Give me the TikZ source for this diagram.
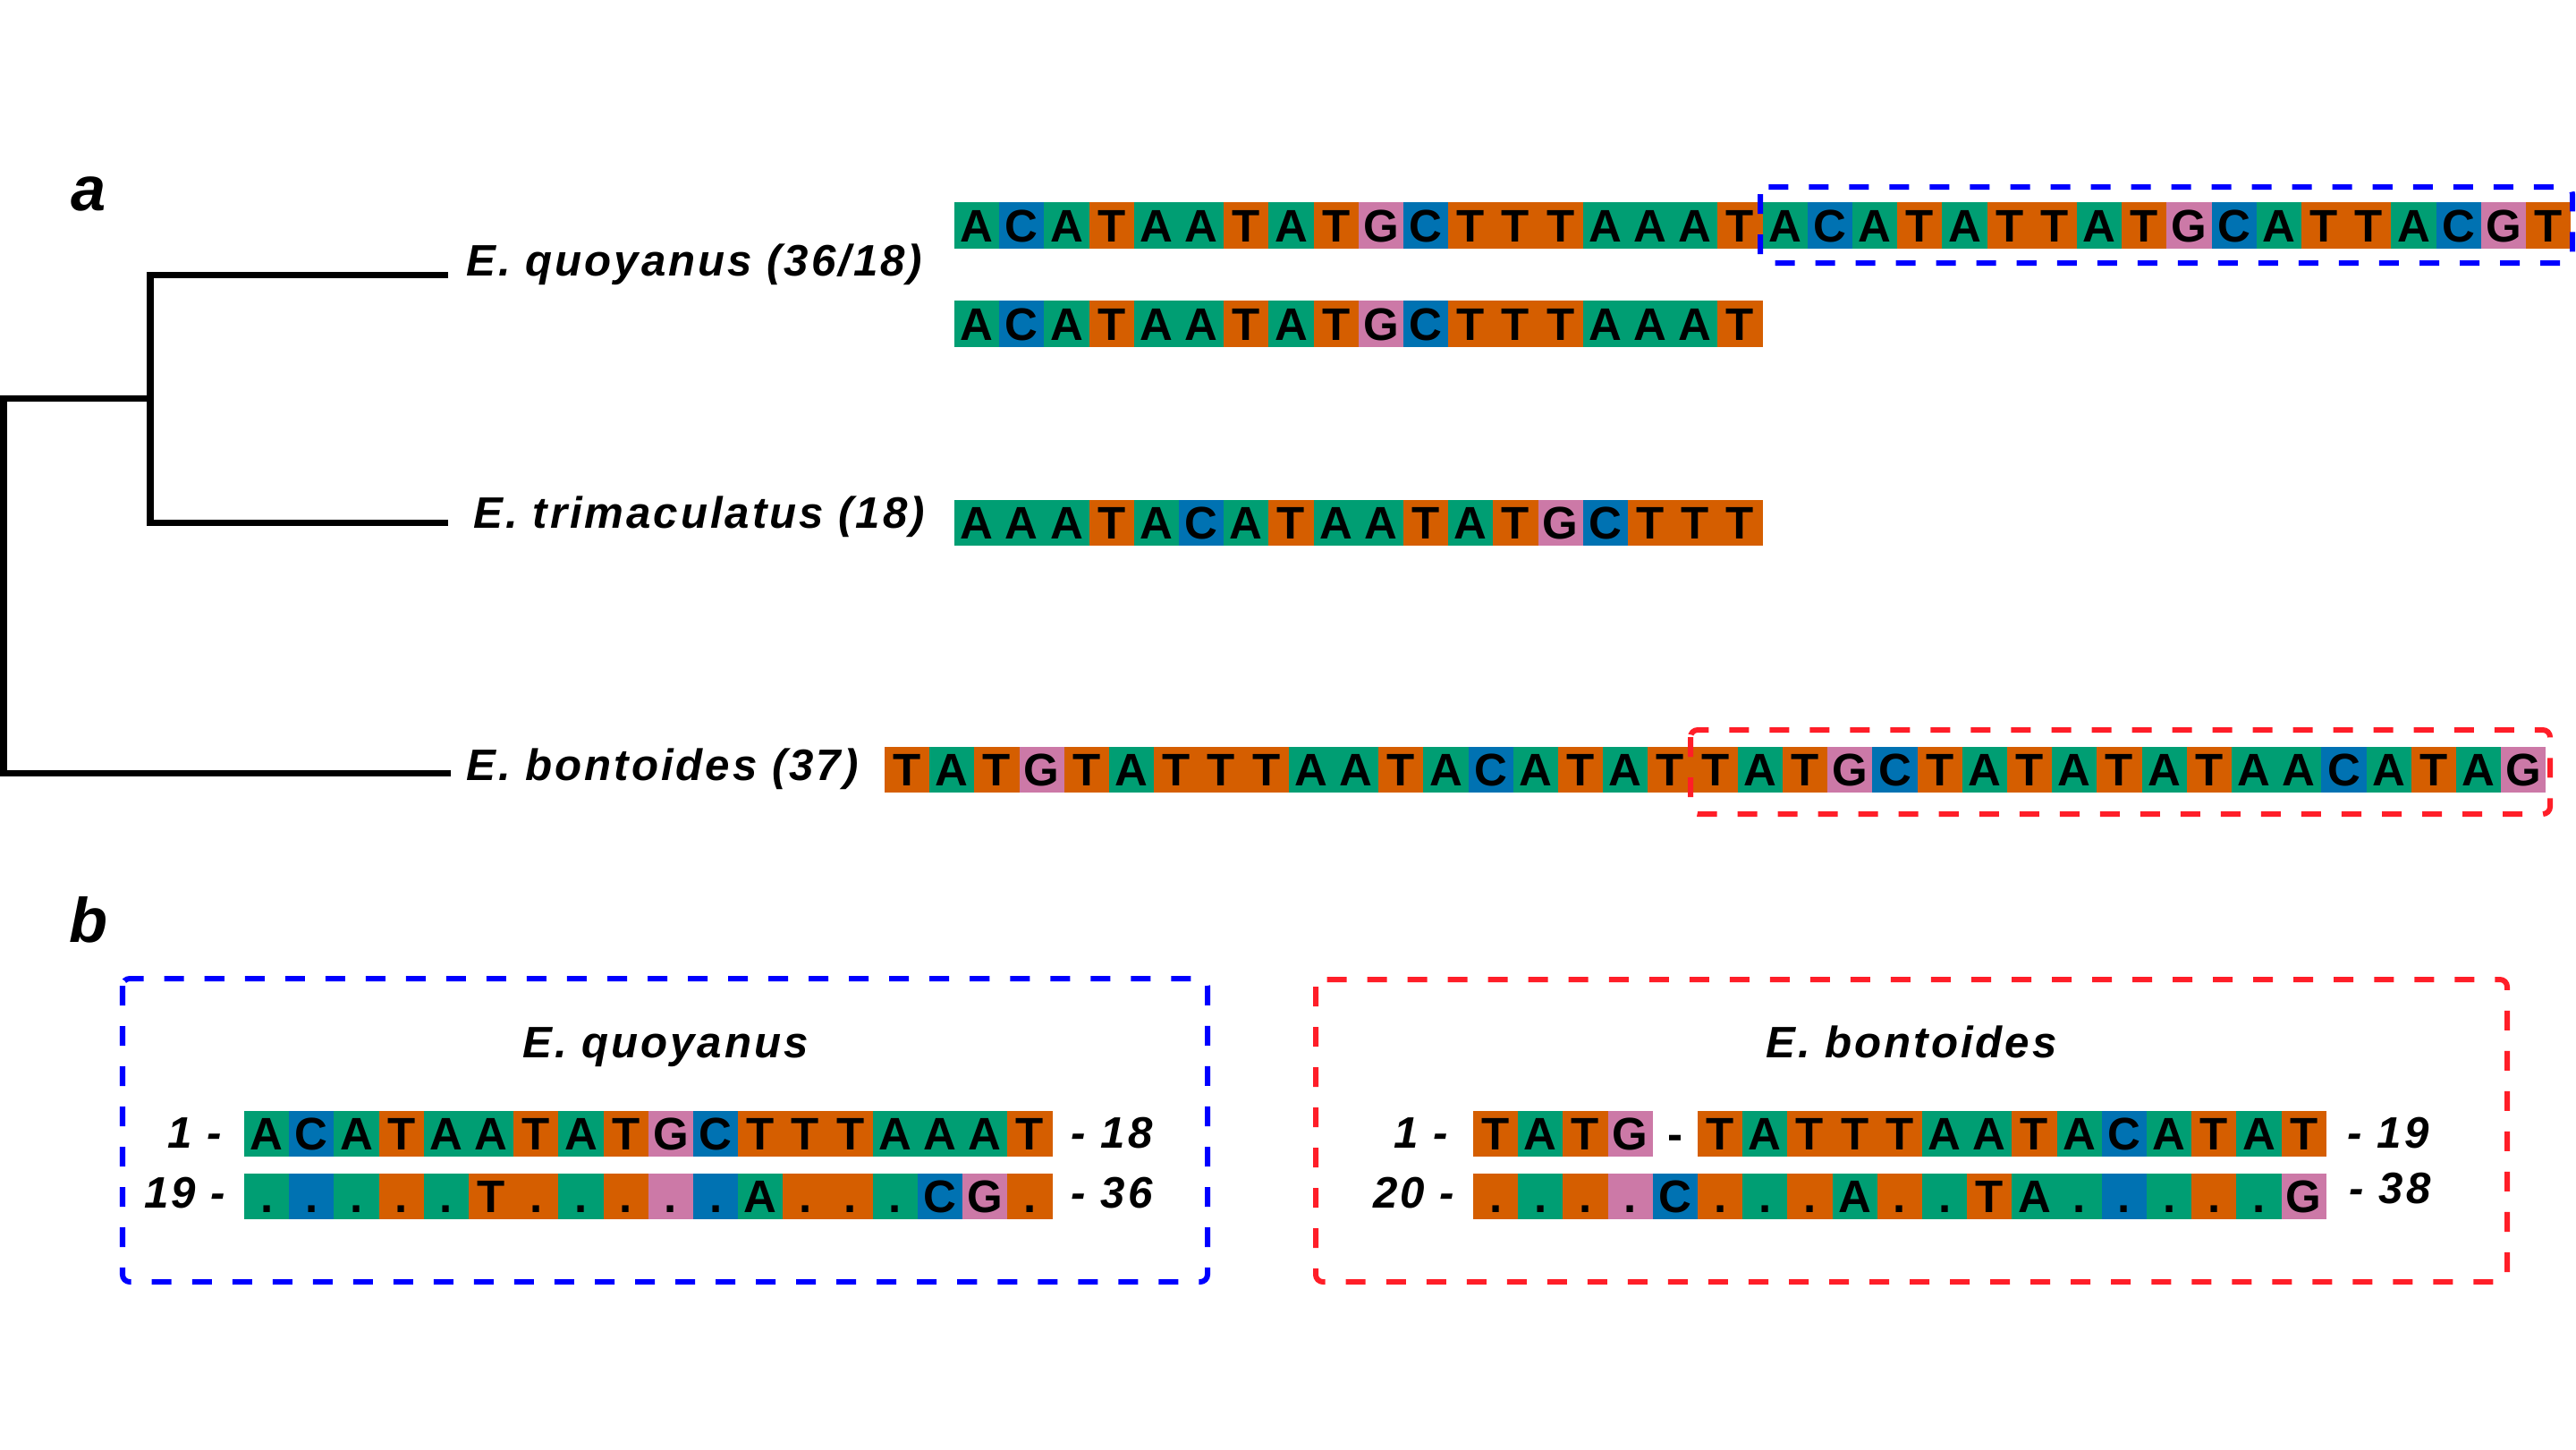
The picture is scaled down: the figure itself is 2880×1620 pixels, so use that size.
\documentclass[tikz,border=0pt]{standalone}
\usepackage{fontspec}
\setmainfont{Liberation Sans}
\newfontfamily\spfont[LetterSpace=6]{Liberation Sans}

\definecolor{colA}{RGB}{0,158,115}
\definecolor{colC}{RGB}{0,114,178}
\definecolor{colG}{RGB}{204,121,167}
\definecolor{colT}{RGB}{213,94,0}
\colorlet{cola}{colA}
\colorlet{colc}{colC}
\colorlet{colg}{colG}
\colorlet{colt}{colT}
\colorlet{coln}{white}
\definecolor{boxblue}{RGB}{0,0,255}
\definecolor{boxred}{RGB}{255,30,40}

% upper case = base, lower case = same base shown as a dot, n = gap
\newcommand{\txtA}{A}
\newcommand{\txtC}{C}
\newcommand{\txtG}{G}
\newcommand{\txtT}{T}
\newcommand{\txta}{.}
\newcommand{\txtc}{.}
\newcommand{\txtg}{.}
\newcommand{\txtt}{.}
\newcommand{\txtn}{-}

% name, left x, centre y, bases
\newcommand{\seqrow}[4]{%
  \foreach \nt [count=\i] in {#4}
    \node[cell, fill=col\nt] (#1-\i) at ({#2+(\i-0.5)*50.2},#3) {\csname txt\nt\endcsname};
}

\begin{document}
\begin{tikzpicture}[x=0.01cm, y=-0.01cm,
        branch/.style={line width=0.07cm},
        cell/.style={minimum width=0.502cm, minimum height=0.51cm, inner sep=0pt,
            text height=0.36cm, text depth=0cm, font=\fontsize{14.5}{15}\selectfont\bfseries},
        species/.style={inner sep=0pt, font=\spfont\fontsize{14}{15}\selectfont\bfseries\itshape},
        panel/.style={anchor=base, inner sep=0pt, font=\fontsize{20}{22}\selectfont\bfseries\itshape},
        hlbox/.style={line width=0.06cm, dash pattern=on 0.22cm off 0.23cm, rounded corners=0.08cm}]
    \useasboundingbox (0,0) rectangle (2880,1620);

    % panel a: tree
    \node[panel] (pa) at (99,235) {a};
    \coordinate (n0) at (4,445);
    \coordinate (n1) at (168,445);
    \coordinate (tq) at (501,307);
    \coordinate (tt) at (501,584);
    \coordinate (tb) at (504,864);
    \draw[branch] (tq) -| (n1) |- (tt);
    \draw[branch] (n1) -- (n0) |- (tb);
    \node[species, anchor=base west] (lq) at (521,308) {E. quoyanus (36/18)};
    \node[species, anchor=base west] (lt) at (529,590) {E. trimaculatus (18)};
    \node[species, anchor=base west] (lb) at (521,872) {E. bontoides (37)};

    % panel a: sequences
    \seqrow{q1}{1067}{252}{A,C,A,T,A,A,T,A,T,G,C,T,T,T,A,A,A,T,A,C,A,T,A,T,T,A,T,G,C,A,T,T,A,C,G,T}
    \seqrow{q2}{1067}{362}{A,C,A,T,A,A,T,A,T,G,C,T,T,T,A,A,A,T}
    \seqrow{t1}{1067}{584}{A,A,A,T,A,C,A,T,A,A,T,A,T,G,C,T,T,T}
    \seqrow{b1}{989}{860}{T,A,T,G,T,A,T,T,T,A,A,T,A,C,A,T,A,T,T,A,T,G,C,T,A,T,A,T,A,T,A,A,C,A,T,A,G}
    \draw[hlbox, boxblue] (1968,209) rectangle (2876,294);
    \draw[hlbox, boxred] (1890,816) rectangle (2851,910);

    % panel b
    \node[panel] (pb) at (99,1053) {b};
    \draw[hlbox, boxblue] (137,1094) rectangle (1350,1433);
    \draw[hlbox, boxred] (1471,1095) rectangle (2803,1433);
    \node[species, anchor=base] (hq) at (744,1182) {E. quoyanus};
    \node[species, anchor=base] (hb) at (2137,1182) {E. bontoides};

    \seqrow{bq1}{273}{1267}{A,C,A,T,A,A,T,A,T,G,C,T,T,T,A,A,A,T}
    \seqrow{bq2}{273}{1337}{a,c,a,t,a,T,t,a,t,g,c,A,t,t,a,C,G,t}
    \seqrow{bb1}{1647}{1267}{T,A,T,G,n,T,A,T,T,T,A,A,T,A,C,A,T,A,T}
    \seqrow{bb2}{1647}{1337}{t,a,t,g,C,t,a,t,A,t,a,T,A,a,c,a,t,a,G}

    \node[species, anchor=base east] (nq1) at (249,1283) {1 -};
    \node[species, anchor=base west] (nq2) at (1197,1283) {- 18};
    \node[species, anchor=base east] (nq3) at (253,1350) {19 -};
    \node[species, anchor=base west] (nq4) at (1197,1350) {- 36};
    \node[species, anchor=base east] (nb1) at (1620,1283) {1 -};
    \node[species, anchor=base west] (nb2) at (2624,1283) {- 19};
    \node[species, anchor=base east] (nb3) at (1627,1350) {20 -};
    \node[species, anchor=base west] (nb4) at (2626,1345) {- 38};
\end{tikzpicture}
\end{document}
